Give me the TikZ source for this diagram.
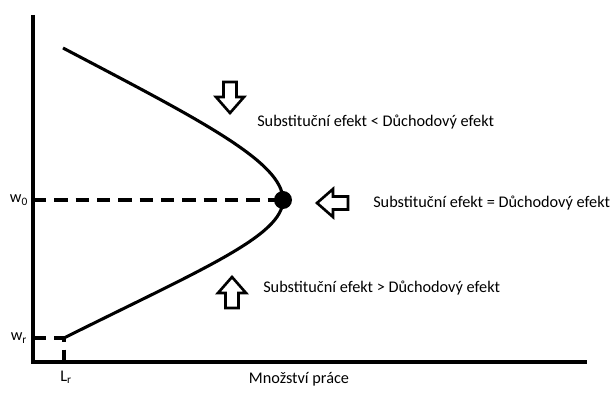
\documentclass[tikz,border=0pt]{standalone}
\usepackage{fontspec}
\setmainfont{Carlito}
\usetikzlibrary{positioning}

\begin{document}
\begin{tikzpicture}[
            x=0.75pt, y=-0.75pt,
            every node/.style={font=\fontsize{12.2}{14}\selectfont},
            axis/.style={line width=2.5pt},
            curve/.style={line width=2.3pt},
            guide/.style={line width=2.3pt,dash pattern=on 10pt off 6pt},
            hollow/.style={draw,fill=white,line width=2pt,line join=miter},
            effect/.style={anchor=west,inner sep=0pt},
            lbl/.style={inner sep=0pt}
        ]
        \useasboundingbox (0,0) rectangle (612,399);

        % Draw axes %
        \coordinate (top) at (33,15);
        \coordinate (O) at (33,362);
        \coordinate (right) at (587,362);
        \draw[axis] (top) -- (O) -- (right);

        % Draw curve %
        \coordinate (start) at (63,48);
        \coordinate (wr) at (64,338);
        \node[circle,fill,inner sep=0pt,minimum size=13.5pt] (E) at (283,200) {};
        \draw[curve] (start) .. controls (200,120) and (283,162) .. (E.center)
            .. controls (283,236) and (200,270) .. (wr);

        % Draw guide lines %
        \coordinate (w0axis) at (33,200);
        \coordinate (wraxis) at (33,338);
        \coordinate (Lraxis) at (64,362);
        \draw[guide] (w0axis) -- (E.center);
        \draw[guide] (wraxis) -- (wr) -- (Lraxis);

        % Draw axis labels %
        \node[lbl] (w0) at (19,200) {w\textsubscript{0}};
        \node[lbl] (wrl) at (19,338) {w\textsubscript{r}};
        \node[lbl] (Lr) at (66,377) {L\textsubscript{r}};
        \node[lbl] (work) at (299,379) {Množství práce};

        % Draw block arrows %
        \foreach \tip/\ang in {{(230,113)}/-90, {(317,203)}/180, {(232,277)}/90}
            \draw[hollow,shift={\tip},rotate=\ang] (0,0) -- (-16,14) -- (-16,6.5)
                -- (-31,6.5) -- (-31,-6.5) -- (-16,-6.5) -- (-16,-14) -- cycle;

        % Draw effect labels %
        \node[effect] (less) at (257,122) {Substituční efekt < Důchodový efekt};
        \node[effect] (equal) at (373,203) {Substituční efekt = Důchodový efekt};
        \node[effect] (greater) at (263,288) {Substituční efekt > Důchodový efekt};
\end{tikzpicture}
\end{document}
